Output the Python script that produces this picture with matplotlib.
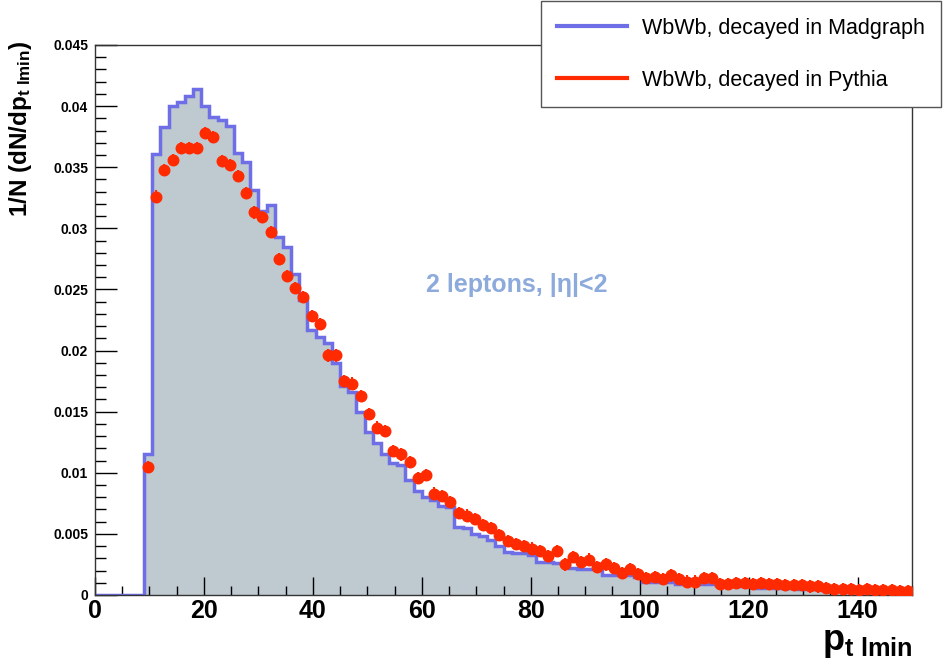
import numpy as np
import matplotlib
matplotlib.use("Agg")
import matplotlib.pyplot as plt
from matplotlib.lines import Line2D
from matplotlib.ticker import MultipleLocator

plt.rcParams['font.family'] = ['Liberation Sans', 'DejaVu Sans']
plt.rcParams['mathtext.fontset'] = 'custom'
plt.rcParams['mathtext.rm'] = 'Liberation Sans:bold'
plt.rcParams['mathtext.bf'] = 'Liberation Sans:bold'
plt.rcParams['mathtext.it'] = 'Liberation Sans:bold'

# 100 bins of 1.5 GeV between 0 and 150
bin_lo, bin_hi, n_bins = 0.0, 150.0, 100

# WbWb, decayed in Madgraph (filled histogram)
madgraph = [
    0, 0, 0, 0, 0, 0, 0.0115, 0.0361, 0.0383, 0.0400,
    0.0403, 0.0408, 0.0414, 0.0400, 0.0391, 0.0389, 0.0384, 0.0362, 0.0354, 0.0331,
    0.0314, 0.0319, 0.0293, 0.0285, 0.0263, 0.0241, 0.0217, 0.0211, 0.0206, 0.0190,
    0.0171, 0.0166, 0.0150, 0.0133, 0.0124, 0.0115, 0.0108, 0.0106, 0.0094, 0.0085,
    0.0080, 0.0078, 0.0073, 0.0072, 0.0056, 0.0055, 0.0050, 0.0048, 0.0045, 0.0040,
    0.0035, 0.0034, 0.0034, 0.0033, 0.0027, 0.0027, 0.0026, 0.0026, 0.0022, 0.0021,
    0.0021, 0.0021, 0.0016, 0.0016, 0.0016, 0.0016, 0.0015, 0.0011, 0.0011, 0.0011,
    0.0011, 0.0009, 0.0009, 0.0009, 0.0009, 0.0009, 0.0008, 0.0007, 0.0007, 0.0007,
    0.0007, 0.0006, 0.0007, 0.0006, 0.0006, 0.0006, 0.0005, 0.0005, 0.0005, 0.0004,
    0.0004, 0.0004, 0.0004, 0.0003, 0.0003, 0.0003, 0.0003, 0.0003, 0.0002, 0.0002,
]

# WbWb, decayed in Pythia (red points)
pythia = [
    0, 0, 0, 0, 0, 0, 0.0105, 0.0326, 0.0348, 0.0356,
    0.0366, 0.0366, 0.0366, 0.0378, 0.0375, 0.0355, 0.0352, 0.0343, 0.0329, 0.0313,
    0.0309, 0.0297, 0.0275, 0.0261, 0.0251, 0.0244, 0.0228, 0.0222, 0.0196, 0.0196,
    0.0175, 0.0173, 0.0163, 0.0148, 0.0137, 0.0134, 0.0118, 0.0115, 0.0109, 0.0096,
    0.0098, 0.0083, 0.0081, 0.0076, 0.0067, 0.0065, 0.0062, 0.0057, 0.0055, 0.0049,
    0.0044, 0.0042, 0.0040, 0.0038, 0.0036, 0.0032, 0.0036, 0.0025, 0.0031, 0.0027,
    0.0029, 0.0023, 0.0025, 0.0022, 0.0018, 0.0021, 0.0017, 0.0014, 0.0015, 0.0013,
    0.0016, 0.0013, 0.0011, 0.0011, 0.0014, 0.0014, 0.0009, 0.0009, 0.0010, 0.0010,
    0.0009, 0.0010, 0.0009, 0.0009, 0.0008, 0.0008, 0.0008, 0.0007, 0.0007, 0.0006,
    0.0005, 0.0005, 0.0005, 0.0004, 0.0005, 0.0004, 0.0004, 0.0004, 0.0003, 0.0003,
]

labels = ["WbWb, decayed in Madgraph", "WbWb, decayed in Pythia"]
note = "2 leptons, |η|<2"

blue = "#6e6ee6"
red = "#ff2a00"
fill = "#bec9d0"

edges = np.linspace(bin_lo, bin_hi, n_bins + 1)
centers = 0.5 * (edges[:-1] + edges[1:])
mg = np.array(madgraph)
py = np.array(pythia)

fig = plt.figure(figsize=(9.44, 6.67), dpi=100)
ax = fig.add_axes([95 / 944, 1 - 595 / 667, 817 / 944, 550 / 667])

ax.stairs(mg, edges, fill=True, color=fill, zorder=1)
ax.stairs(mg, edges, baseline=0, color=blue, lw=2.5, zorder=2)

keep = py > 0
ax.errorbar(centers[keep], py[keep], yerr=0.0005, fmt='o', color=red,
            ms=7.6, elinewidth=1.5, capsize=0, zorder=3)

ax.set_xlim(bin_lo, bin_hi)
ax.set_ylim(0, 0.045)

ax.xaxis.set_major_locator(MultipleLocator(20))
ax.xaxis.set_minor_locator(MultipleLocator(5))
ax.yaxis.set_major_locator(MultipleLocator(0.005))
ax.yaxis.set_minor_locator(MultipleLocator(0.001))
ax.yaxis.set_major_formatter(lambda v, p: "0" if v == 0 else f"{v:g}")

ax.tick_params(axis='y', which='major', direction='in', length=16, width=1, labelsize=10, pad=5)
ax.tick_params(axis='y', which='minor', direction='in', length=8, width=1)
ax.tick_params(axis='x', which='major', direction='in', length=13, width=1, labelsize=18, pad=3)
ax.tick_params(axis='x', which='minor', direction='in', length=6.5, width=1)
for lab in ax.get_xticklabels() + ax.get_yticklabels():
    lab.set_fontweight('bold')
for sp in ax.spines.values():
    sp.set_color('#333333')
    sp.set_linewidth(1)

fig.text(913 / 944, 1 - 650 / 667, r'$\mathbf{p}_{\mathbf{t\ lmin}}$', fontsize=26,
         ha='right', va='baseline')
fig.text(21 / 944, 1 - 40 / 667, r'1/N (dN/dp$_{\mathbf{t\ lmin}}$)', fontsize=17.5,
         fontweight='bold', rotation=90, ha='center', va='top')

ax.text(0.5165, 0.564, note, transform=ax.transAxes, fontsize=18, fontweight='bold',
        color="#8caadc", ha='center', va='center')

handles = [Line2D([], [], color=blue, lw=3), Line2D([], [], color=red, lw=3)]
leg = fig.legend(handles, labels, loc='lower left', bbox_to_anchor=(541 / 944, 1 - 107 / 667),
                 bbox_transform=fig.transFigure, borderaxespad=0, fontsize=15.5,
                 handlelength=3.25, handletextpad=0.7, labelspacing=1.45, borderpad=0.75,
                 fancybox=False, framealpha=1, edgecolor='#555555')
leg.get_frame().set_linewidth(1)

fig.savefig("out.png", dpi=100)
